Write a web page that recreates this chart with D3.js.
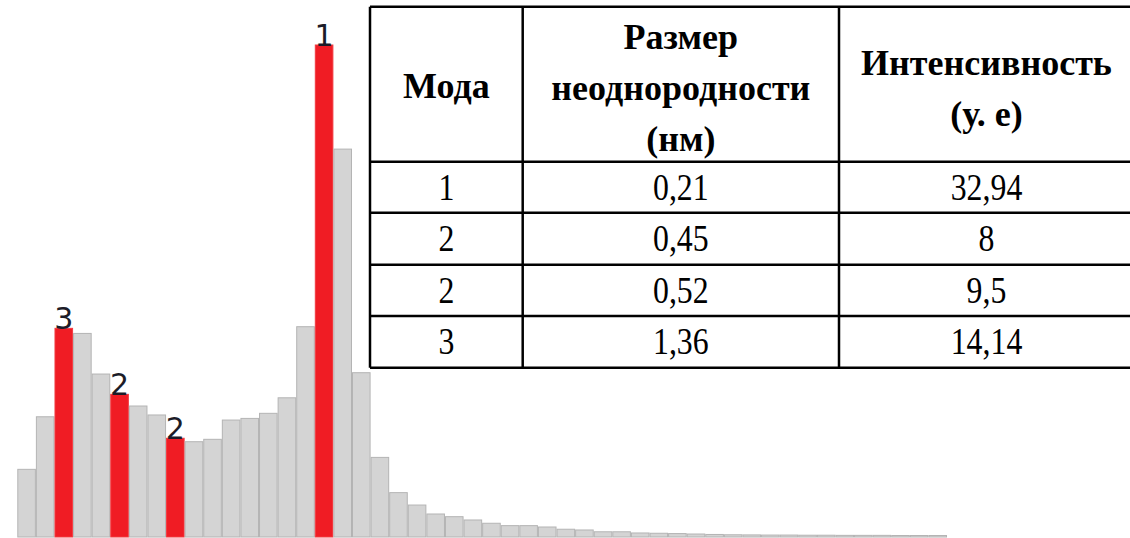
<!DOCTYPE html>
<html>
<head>
<meta charset="utf-8">
<script src="https://cdn.jsdelivr.net/npm/d3@7"></script>
<style>body { margin: 0; }</style>
</head>
<body>
<script>
// intensity of each size bin (arb. units)
var values = [4.53, 8.05, 13.97, 13.63, 10.91, 9.55, 8.77, 8.17, 6.61, 6.38,
              6.54, 7.83, 7.94, 8.28, 9.32, 14.08, 32.94, 25.97, 11.0, 5.33,
              2.97, 2.14, 1.54, 1.36, 1.14, 0.92, 0.76, 0.76, 0.67, 0.52,
              0.47, 0.35, 0.35, 0.27, 0.25, 0.23, 0.2, 0.17, 0.15, 0.14,
              0.13, 0.13, 0.12, 0.12, 0.11, 0.11, 0.11, 0.1, 0.1, 0.1];
var modeBins = [2, 5, 8, 16];
var modeLabels = ["3", "2", "2", "1"];

var tableHead = [["Мода"], ["Размер", "неоднородности", "(нм)"], ["Интенсивность", "(у. е)"]];
var tableRows = [["1", "0,21", "32,94"],
                 ["2", "0,45", "8"],
                 ["2", "0,52", "9,5"],
                 ["3", "1,36", "14,14"]];

var width = 1130, height = 538;

var svg = d3.select("body").append("svg")
    .attr("width", width)
    .attr("height", height);

var x = d3.scaleBand()
    .domain(d3.range(values.length))
    .range([17.3, 947])
    .padding(0);

var y = d3.scaleLinear()
    .domain([0, 32.94])
    .range([537, 45]);

function isMode(i) { return modeBins.indexOf(i) >= 0; }

svg.selectAll(".bar")
    .data(values)
    .enter().append("rect")
    .attr("class", "bar")
    .attr("x", function(d, i) { return x(i) + 0.5; })
    .attr("y", function(d) { return y(d); })
    .attr("width", x.bandwidth() - 1)
    .attr("height", function(d) { return y(0) - y(d); })
    .attr("fill", function(d, i) { return isMode(i) ? "#f01c24" : "#d4d4d4"; })
    .attr("stroke", function(d, i) { return isMode(i) ? "#f23a40" : "#b4b4b4"; })
    .attr("stroke-width", 1);

svg.selectAll(".mode-label")
    .data(modeBins)
    .enter().append("text")
    .attr("class", "mode-label")
    .attr("x", function(d) { return x(d) + x.bandwidth() / 2; })
    .attr("y", function(d) { return y(values[d]) + 1; })
    .attr("text-anchor", "middle")
    .attr("font-family", "DejaVu Sans")
    .attr("font-size", 30)
    .attr("fill", "#1c1c28")
    .text(function(d, i) { return modeLabels[i]; });

// table
var colX = [370, 522.7, 839, 1134];
var rowY = [6.7, 161.7, 212.7, 264.7, 316, 367.7];

svg.append("rect")
    .attr("x", colX[0]).attr("y", rowY[0])
    .attr("width", colX[3] - colX[0]).attr("height", rowY[5] - rowY[0])
    .attr("fill", "#fff");

var headCenters = [[86], [37, 88, 139], [63, 114]];

tableHead.forEach(function(lines, c) {
    lines.forEach(function(line, i) {
        svg.append("text")
            .attr("x", (colX[c] + colX[c + 1]) / 2)
            .attr("y", headCenters[c][i] + 12)
            .attr("text-anchor", "middle")
            .attr("font-family", "Liberation Serif")
            .attr("font-weight", "bold")
            .attr("font-size", 36)
            .text(line);
    });
});

tableRows.forEach(function(row, r) {
    row.forEach(function(cell, c) {
        svg.append("text")
            .attr("transform", "translate(" + (colX[c] + colX[c + 1]) / 2 + "," +
                ((rowY[r + 1] + rowY[r + 2]) / 2 + 12.5) + ") scale(0.86,1)")
            .attr("text-anchor", "middle")
            .attr("font-family", "Liberation Serif")
            .attr("font-size", 37)
            .text(cell);
    });
});

svg.selectAll(".hline")
    .data(rowY)
    .enter().append("line")
    .attr("class", "hline")
    .attr("x1", colX[0]).attr("x2", colX[3])
    .attr("y1", function(d) { return d; }).attr("y2", function(d) { return d; })
    .attr("stroke", "#000").attr("stroke-width", 2.5);

svg.selectAll(".vline")
    .data(colX)
    .enter().append("line")
    .attr("class", "vline")
    .attr("x1", function(d) { return d; }).attr("x2", function(d) { return d; })
    .attr("y1", rowY[0]).attr("y2", rowY[5])
    .attr("stroke", "#000").attr("stroke-width", 2.5);
</script>
</body>
</html>
